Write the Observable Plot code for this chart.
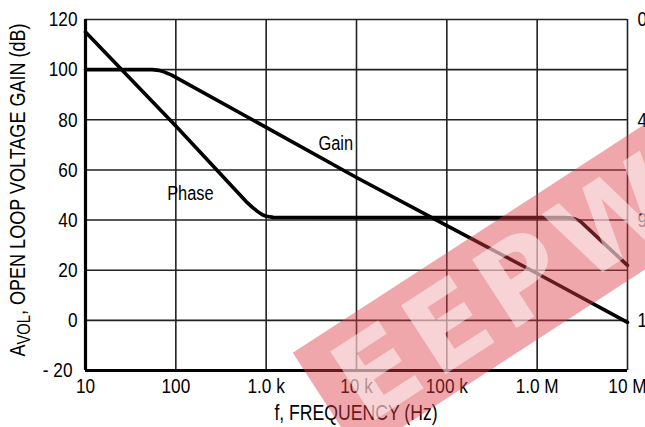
<!DOCTYPE html>
<html><head><meta charset="utf-8">
<script src="https://cdn.jsdelivr.net/npm/d3@7"></script>
<script src="https://cdn.jsdelivr.net/npm/@observablehq/plot@0.6"></script>
<style>
html,body{margin:0;padding:0;background:#fff;overflow:hidden;}
svg{display:block}
</style></head><body><div id="chart"></div>
<script>
const FONT = '"Liberation Sans",Arial,sans-serif';
const NARROW = 0.82; // Helvetica-Narrow look

// axis ticks
const freqTicks = [10, 100, 1e3, 1e4, 1e5, 1e6, 1e7];
const freqTickLabels = ["10", "100", "1.0 k", "10 k", "100 k", "1.0 M", "10 M"];
const gainTicks = [-20, 0, 20, 40, 60, 80, 100, 120];
const gainTickLabels = ["- 20", "0", "20", "40", "60", "80", "100", "120"];
const phaseTicks = [0, 45, 90, 135];

// open-loop gain (dB) vs frequency (Hz)
const gainFreq = [10, 55, 65, 75, 90, 1e3, 1e4, 1e5, 1e6, 1e7];
const gainDb   = [100, 100, 99.7, 99.0, 97.8, 77, 57, 37.8, 18.7, -0.8];

// phase (degrees) vs frequency (Hz)
const phaseFreq = [10, 100, 600, 700, 800, 900, 1000, 1200, 2e6, 2.3e6, 2.6e6, 3e6, 1e7];
const phaseDeg  = [5.6, 47.8, 81.7, 84.2, 86.1, 87.5, 88.3, 88.8, 88.9, 89.0, 89.5, 90.6, 110.3];

// curve labels
const labelText = ["Gain", "Phase"];
const labelFreq = [5900, 145];
const labelDb   = [70.5, 50.6];

// phase axis maps 0..135 deg onto 120..0 dB of the left scale
const degToDb = d => 120 - d * 40 / 45;

const gain = gainFreq.map((f, i) => ({f, v: gainDb[i]}));
const phase = phaseFreq.map((f, i) => ({f, v: degToDb(phaseDeg[i])}));
const labels = labelText.map((t, i) => ({t, f: labelFreq[i], v: labelDb[i]}));
const rightTicks = phaseTicks.map(d => ({t: String(d), v: degToDb(d)}));

const chart = Plot.plot({
  width: 645,
  height: 427,
  marginLeft: 85,
  marginRight: 18,
  marginTop: 19,
  marginBottom: 57,
  style: {fontFamily: FONT, fontSize: "21px", color: "#000", background: "#fff"},
  x: {type: "log", domain: [10, 1e7]},
  y: {domain: [-20, 120]},
  marks: [
    Plot.ruleX(freqTicks, {stroke: "#222", strokeWidth: 1.6}),
    Plot.ruleY(gainTicks, {stroke: "#222", strokeWidth: 1.6}),
    Plot.ruleX([10], {stroke: "#000", strokeWidth: 3.2}),
    Plot.ruleY([-20], {stroke: "#000", strokeWidth: 3.2}),
    Plot.line(gain, {x: "f", y: "v", stroke: "#000", strokeWidth: 3.6, strokeLinejoin: "round"}),
    Plot.line(phase, {x: "f", y: "v", stroke: "#000", strokeWidth: 3.6, strokeLinejoin: "round"}),
    Plot.text(labels, {x: "f", y: "v", text: "t", fontSize: 20, fill: "#000"}),
    Plot.text(rightTicks, {x: () => 1e7, y: "v", text: "t", dx: 10, textAnchor: "start", fontSize: 21, fill: "#000"}),
    Plot.axisX(freqTicks, {tickFormat: d => freqTickLabels[freqTicks.indexOf(d)], tickSize: 0, tickPadding: 8, fontSize: 21, label: null}),
    Plot.axisY(gainTicks, {tickFormat: d => gainTickLabels[gainTicks.indexOf(d)], tickSize: 0, tickPadding: 8, fontSize: 21, label: null})
  ]
});
document.getElementById("chart").appendChild(chart);

// condense every Plot text to a narrow-Helvetica width
chart.querySelectorAll("text").forEach(t => {
  const len = t.getComputedTextLength();
  if (len > 0) {
    t.setAttribute("textLength", (len * NARROW).toFixed(2));
    t.setAttribute("lengthAdjust", "spacingAndGlyphs");
  }
  if (t.textContent === "- 20") t.setAttribute("dx", -5);
});

const svg = d3.select(chart);
// y-axis title with subscript
const yt = svg.append("text")
  .attr("transform", `translate(25,190) rotate(-90) scale(${NARROW},1)`)
  .attr("text-anchor", "middle")
  .attr("font-family", FONT)
  .attr("font-size", 22)
  .attr("fill", "#000");
yt.append("tspan").text("A");
yt.append("tspan").attr("dy", 5).attr("font-size", 18).text("VOL");
yt.append("tspan").attr("dy", -5).text(", OPEN LOOP VOLTAGE GAIN (dB)");
// x-axis title
svg.append("text")
  .attr("transform", `translate(356,420) scale(${NARROW},1)`)
  .attr("text-anchor", "middle")
  .attr("font-family", FONT)
  .attr("font-size", 21.5)
  .attr("fill", "#000")
  .text("f, FREQUENCY (Hz)");

// watermark: pink band with pale lettering
const wm = svg.append("g").attr("transform", "translate(326,404) rotate(-33)");
wm.append("rect").attr("x", 0).attr("y", -61).attr("width", 520).attr("height", 122)
  .attr("fill", "rgb(220,60,70)").attr("fill-opacity", 0.45);
wm.append("text").attr("x", 22).attr("y", 40)
  .attr("text-anchor", "start")
  .attr("font-family", "DejaVu Sans").attr("font-weight", "bold").attr("font-size", 112)
  .attr("letter-spacing", 8)
  .attr("fill", "#fff").attr("fill-opacity", 0.5)
  .text("EEPW");
</script>
</body></html>
